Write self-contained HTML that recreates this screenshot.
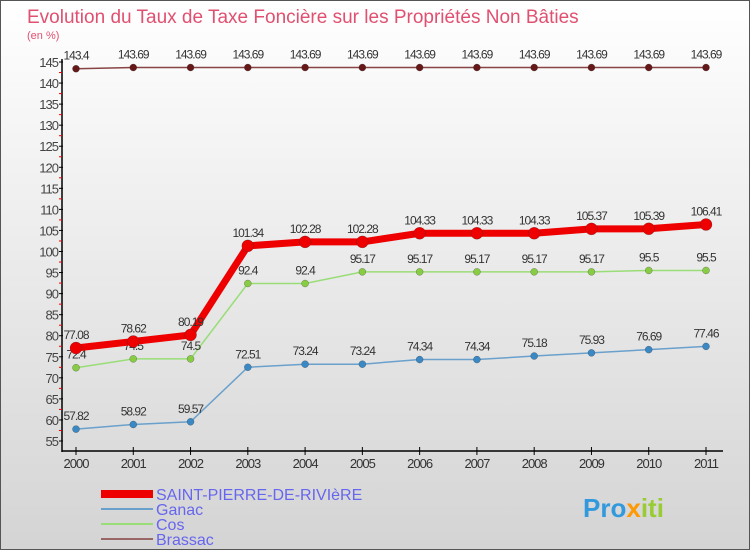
<!DOCTYPE html>
<html><head><meta charset="utf-8"><style>
body{margin:0}
#c{width:750px;height:550px;position:relative;overflow:hidden;font-family:"Liberation Sans",sans-serif;background:linear-gradient(#ffffff,#d4d4d4);box-sizing:border-box;border:1px solid #555}
</style></head><body>
<div id="c">
<svg id="s" width="750" height="550" style="position:absolute;left:0;top:0">
<text x="26" y="22" font-size="19" fill="#e05070">Evolution du Taux de Taxe Foncière sur les Propriétés Non Bâties</text>
<text x="26" y="38" font-size="11" fill="#e05070">(en %)</text>
<g id="axes"></g><g id="series"></g>
<g>
<rect x="100" y="489" width="52" height="8" fill="#ee0000"/>
<text x="155" y="499" font-size="16" fill="#6666ee">SAINT-PIERRE-DE-RIVIèRE</text>
<line x1="100" x2="152" y1="508" y2="508" stroke="#6aa0cc" stroke-width="2"/>
<text x="155" y="514" font-size="16" fill="#6666ee">Ganac</text>
<line x1="100" x2="152" y1="523" y2="523" stroke="#99dd77" stroke-width="2"/>
<text x="155" y="529" font-size="16" fill="#6666ee">Cos</text>
<line x1="100" x2="152" y1="538" y2="538" stroke="#996666" stroke-width="2"/>
<text x="155" y="544" font-size="16" fill="#6666ee">Brassac</text>
</g>
<text x="582" y="516" font-size="26" font-weight="bold" fill="#3399dd">Pro<tspan fill="#ff9900">x</tspan><tspan fill="#99cc33">iti</tspan></text>
</svg>
</div>
<script>
const years=["2000","2001","2002","2003","2004","2005","2006","2007","2008","2009","2010","2011"];
const yTicks=[55,60,65,70,75,80,85,90,95,100,105,110,115,120,125,130,135,140,145];
const saint=[77.08,78.62,80.19,101.34,102.28,102.28,104.33,104.33,104.33,105.37,105.39,106.41];
const ganac=[57.82,58.92,59.57,72.51,73.24,73.24,74.34,74.34,75.18,75.93,76.69,77.46];
const cos=[72.4,74.5,74.5,92.4,92.4,95.17,95.17,95.17,95.17,95.17,95.5,95.5];
const brassac=[143.4,143.69,143.69,143.69,143.69,143.69,143.69,143.69,143.69,143.69,143.69,143.69];
const NS="http://www.w3.org/2000/svg";
const xs=i=>75+i*(630/11);
const ys=v=>440-(v-55)*(379/90);
function mk(t,a,p){const e=document.createElementNS(NS,t);for(const k in a)e.setAttribute(k,a[k]);p.appendChild(e);return e;}
const ax=document.getElementById('axes');
let e=mk('line',{x1:61,x2:61,y1:58,y2:451,stroke:'#000','stroke-width':1.5},ax);


e=mk('line',{x1:61,x2:722,y1:450,y2:450,stroke:'#000','stroke-width':1.5},ax);


yTicks.forEach((v,i)=>{
 const y=ys(v);
 mk('line',{x1:58,x2:62,y1:y,y2:y,stroke:'#000'},ax);
 if(i<yTicks.length-1) mk('line',{x1:58,x2:61,y1:ys(v+2.5),y2:ys(v+2.5),stroke:'#e00'},ax);
 const t=mk('text',{x:57,y:y+5,'font-size':13,fill:'#444','text-anchor':'end','letter-spacing':'-1'},ax);
 t.textContent=v;
 
 
});
years.forEach((yr,i)=>{
 const x=xs(i);
 mk('line',{x1:x,x2:x,y1:446,y2:454,stroke:'#000'},ax);
 const t=mk('text',{x:x,y:467,'font-size':13,fill:'#333','text-anchor':'middle','letter-spacing':'-1'},ax);
 t.textContent=yr;
 
 
});
const sg=document.getElementById('series');
function series(data,name,color,dot,w,r){
 const g=mk('g',{},sg);
 
 
 mk('polyline',{points:data.map((v,i)=>xs(i)+','+ys(v)).join(' '),fill:'none',stroke:color,'stroke-width':w},g);
 data.forEach((v,i)=>{
  const c=mk('circle',{cx:xs(i),cy:ys(v),r:r,fill:dot,stroke:'#3338','stroke-width':0.5},g);
  
  
  const t=mk('text',{x:xs(i),y:ys(v)-9,'font-size':12,fill:'#333','text-anchor':'middle','letter-spacing':'-1'},g);
  t.textContent=String(v);
  
  
 });
}
series(brassac,'brassac','#884444','#661818',1.5,3.5);
series(ganac,'ganac','#6aa0cc','#3a88c4',1.5,3.5);
series(cos,'cos','#99dd77','#88cc44',1.5,3.5);
series(saint,'saint-pierre','#ee0000','#ee0000',7,6);
</script>
</body></html>
